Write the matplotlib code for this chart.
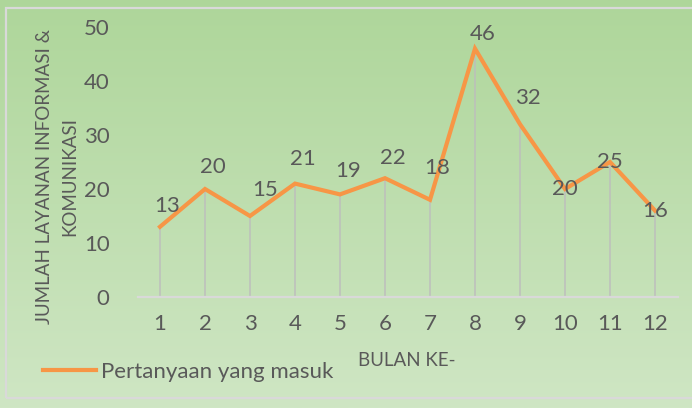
import matplotlib.pyplot as plt
import numpy as np
from matplotlib.colors import LinearSegmentedColormap
from matplotlib.patches import Rectangle

plt.rcParams['font.family'] = ['Lato', 'DejaVu Sans']

# monthly counts of incoming questions
bulan = list(range(1, 13))
pertanyaan = [13, 20, 15, 21, 19, 22, 18, 46, 32, 20, 25, 16]
# label offsets (pixels) relative to each point
label_dx = [7, 8, 15, 8, 8, 8, 7, 8, 8, 0, 0, 0]
label_dy = [21, 22, 26, 25, 23, 20, 32, 15, 26, 0, 0, 0]

text_col = '#595959'
line_col = '#F79646'

fig = plt.figure(figsize=(6.92, 4.08), dpi=100)

# vertical green gradient behind everything
bg = fig.add_axes([0, 0, 1, 1], zorder=-10)
grad = LinearSegmentedColormap.from_list('g', ['#AED69A', '#CFE6C4'])
bg.imshow(np.linspace(0, 1, 256).reshape(-1, 1), aspect='auto', cmap=grad,
          extent=[0, 1, 0, 1])
bg.add_patch(Rectangle((6 / 692, 10 / 408), 1.0, 390 / 408, fill=False,
                       edgecolor='#D9D9D9', lw=1.6))
bg.set_xlim(0, 1)
bg.set_ylim(0, 1)
bg.axis('off')

ax = fig.add_axes([137.5 / 692, 111 / 408, 540 / 692, 270 / 408])
ax.patch.set_alpha(0)
ax.vlines(bulan, 0, pertanyaan, color='#BDBDBD', lw=1.3, alpha=0.8, zorder=1)
ax.plot(bulan, pertanyaan, color=line_col, lw=3.0, solid_joinstyle='miter',
        label='Pertanyaan yang masuk', zorder=3)

for x, y, dx, dy in zip(bulan, pertanyaan, label_dx, label_dy):
    ax.annotate(str(y), (x, y), xytext=(dx, dy), textcoords='offset pixels',
                ha='center', va='center', fontsize=16, color=text_col, zorder=4)

ax.set_xlim(0.5, 12.5)
ax.set_ylim(0, 50)
ax.set_xticks(bulan)
ax.set_yticks(range(0, 51, 10))
ax.tick_params(length=0, labelsize=16, colors=text_col)
ax.tick_params(axis='y', pad=20)
ax.tick_params(axis='x', pad=12)
for s in ['top', 'right', 'left']:
    ax.spines[s].set_visible(False)
ax.spines['bottom'].set_color('#D9D9D9')
ax.spines['bottom'].set_linewidth(1.6)

fig.text(407 / 692, (408 - 360) / 408, 'BULAN KE-', ha='center', va='center',
         fontsize=13.5, color=text_col)
fig.text(57 / 692, (408 - 177) / 408, 'JUMLAH LAYANAN INFORMASI &\nKOMUNIKASI',
         ha='center', va='center', rotation=90, multialignment='center',
         fontsize=13.5, color=text_col, linespacing=1.55)

ax.legend(loc='center left', bbox_to_anchor=(43 / 692, 36 / 408),
          bbox_transform=fig.transFigure, frameon=False, fontsize=16,
          labelcolor=text_col, handlelength=2.4, handletextpad=0.2,
          borderpad=0, borderaxespad=0)

fig.savefig('out.png', dpi=100)
